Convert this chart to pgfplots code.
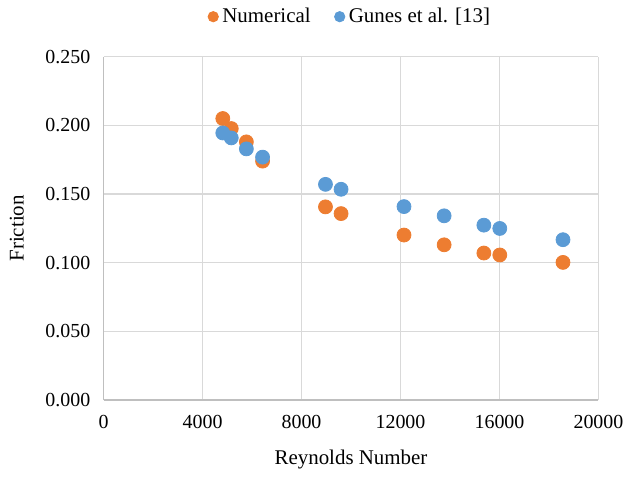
\documentclass[border=0pt]{standalone}
\usepackage{pgfplots}
\pgfplotsset{compat=1.18}
\usepackage{fontspec}
\setmainfont{Liberation Serif}
\definecolor{xorange}{HTML}{ED7D31}
\definecolor{xblue}{HTML}{5B9BD5}
\definecolor{gridc}{HTML}{D9D9D9}
\definecolor{axisc}{HTML}{BFBFBF}
\begin{document}
\begin{tikzpicture}
\begin{axis}[
  name=ax,
  scale only axis,
  width=248.5pt, height=172.5pt,
  xmin=0, xmax=20000, ymin=0, ymax=0.25,
  xtick={0,4000,8000,12000,16000,20000},
  ytick={0,0.05,0.1,0.15,0.2,0.25},
  scaled ticks=false,
  /pgf/number format/assume math mode=true,
  xticklabel style={yshift=-2pt, /pgf/number format/.cd, fixed, 1000 sep={}},
  yticklabel style={xshift=-1pt, /pgf/number format/.cd, fixed, fixed zerofill, precision=3},
  grid=major,
  major grid style={draw=gridc, line width=0.6pt},
  axis lines=left,
  axis line style={-, draw=axisc, line width=0.7pt},
  tick style={draw=none},
  tick label style={font=\fontsize{10}{12}\selectfont},
  label style={font=\fontsize{10.5}{12}\selectfont},
  xlabel={Reynolds Number},
  ylabel={Friction},
  xlabel style={yshift=-4pt},
  ylabel style={yshift=4pt},
  legend style={at={(0.5,1)}, anchor=center, yshift=20pt, draw=none, fill=none,
    legend columns=2, font=\fontsize{10.5}{12}\selectfont,
    /tikz/every even column/.append style={column sep=10pt}},
  legend image code/.code={\draw[#1, mark size=2.6pt] plot coordinates {(0.1cm,0cm)};},
  legend cell align=left,
]
\addplot[only marks, mark=*, mark size=3.5pt, draw=xorange, fill=xorange] coordinates {
(4819,0.2049) (5161,0.1976) (5771,0.1879) (6426,0.1739) (8968,0.1406)
(9598,0.1357) (12141,0.1201) (13763,0.1130) (15369,0.1070) (16012,0.1056) (18566,0.1002)
};
\addlegendentry{Numerical}
\addplot[only marks, mark=*, mark size=3.5pt, draw=xblue, fill=xblue] coordinates {
(4819,0.1944) (5161,0.1908) (5771,0.1828) (6426,0.1768) (8968,0.1570)
(9598,0.1534) (12141,0.1408) (13763,0.1341) (15369,0.1273) (16012,0.1249) (18566,0.1167)
};
\addlegendentry{Gunes et al. [13]}
\end{axis}
\path (ax.south west) ++(-52pt,-35pt) coordinate (bl);
\path (ax.north east) ++(14.5pt,27.5pt) coordinate (tr);
\path[use as bounding box] (bl) rectangle (tr);
\end{tikzpicture}
\end{document}
